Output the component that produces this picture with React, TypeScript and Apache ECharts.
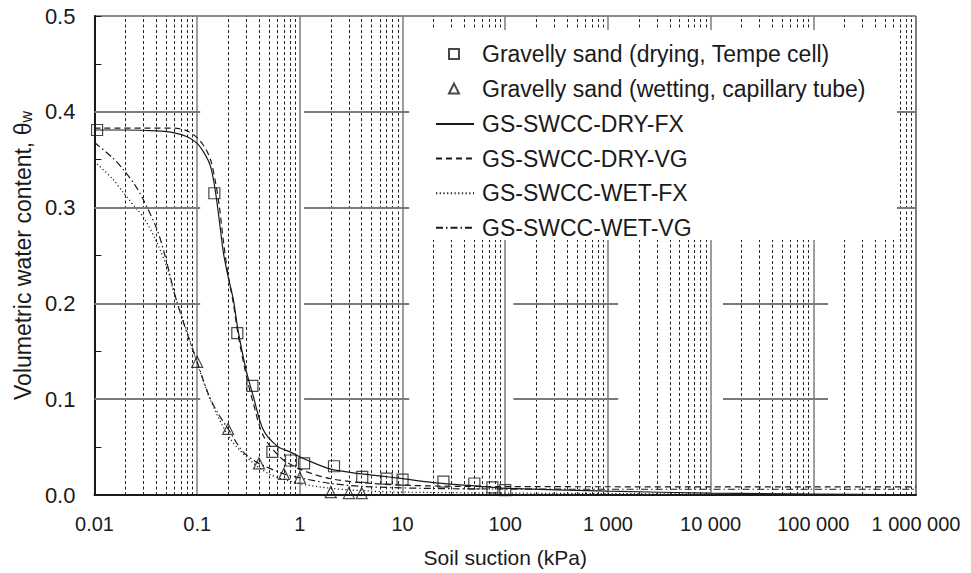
import React, { useEffect, useRef } from "react";
import * as echarts from "echarts";

// ---- axis ticks ----
const xTickValues = [0.01, 0.1, 1, 10, 100, 1000, 10000, 100000, 1000000];
const xTickLabels = ["0.01", "0.1", "1", "10", "100", "1 000", "10 000", "100 000", "1 000 000"];
const yTickLabels = ["0.0", "0.1", "0.2", "0.3", "0.4", "0.5"];

// ---- measured points ----
const dryingSuction = [0.0106, 0.147, 0.246, 0.345, 0.54, 0.82, 1.1, 2.15, 4.05, 7.0, 10, 25, 50, 75, 100];
const dryingTheta = [0.381, 0.315, 0.169, 0.114, 0.045, 0.036, 0.033, 0.03, 0.019, 0.017, 0.016, 0.014, 0.012, 0.008, 0.005];
const wettingSuction = [0.1, 0.2, 0.4, 0.7, 1.0, 2.0, 3.0, 4.0];
const wettingTheta = [0.139, 0.069, 0.033, 0.022, 0.018, 0.003, 0.002, 0.002];

// ---- fitted curves ----
const dryFxSuction = [0.01, 0.02, 0.04, 0.06, 0.08, 0.1, 0.12, 0.135, 0.15, 0.165, 0.18, 0.2, 0.225, 0.25, 0.3, 0.35, 0.44, 0.6, 0.8, 1.2, 2, 4, 6, 10, 20, 57, 100, 1000, 10000, 100000, 1000000];
const dryFxTheta = [0.381, 0.381, 0.38, 0.378, 0.374, 0.367, 0.355, 0.343, 0.318, 0.285, 0.253, 0.228, 0.204, 0.172, 0.13, 0.104, 0.068, 0.051, 0.045, 0.036, 0.027, 0.022, 0.02, 0.017, 0.013, 0.009, 0.007, 0.004, 0.002, 0.001, 0];

const dryVgSuction = [0.01, 0.03, 0.06, 0.08, 0.1, 0.12, 0.135, 0.15, 0.165, 0.18, 0.2, 0.225, 0.25, 0.3, 0.35, 0.44, 0.65, 1, 2, 5, 18, 100, 1000, 10000, 100000, 1000000];
const dryVgTheta = [0.383, 0.383, 0.383, 0.38, 0.373, 0.362, 0.35, 0.328, 0.3, 0.265, 0.23, 0.2, 0.168, 0.125, 0.097, 0.062, 0.039, 0.027, 0.017, 0.012, 0.0095, 0.0088, 0.0086, 0.0085, 0.0085, 0.0085];

const wetFxSuction = [0.01, 0.015, 0.019, 0.025, 0.03, 0.04, 0.051, 0.06, 0.08, 0.1, 0.13, 0.2, 0.3, 0.5, 1, 2, 5, 10, 100, 1000, 10000, 100000, 1000000];
const wetFxTheta = [0.348, 0.33, 0.316, 0.3, 0.29, 0.265, 0.237, 0.21, 0.17, 0.138, 0.103, 0.062, 0.04, 0.022, 0.012, 0.007, 0.004, 0.003, 0.002, 0.0015, 0.001, 0.0005, 0];

const wetVgSuction = [0.01, 0.015, 0.019, 0.025, 0.03, 0.041, 0.05, 0.061, 0.08, 0.1, 0.13, 0.16, 0.2, 0.28, 0.4, 0.7, 1, 2, 5, 20, 100, 1000, 10000, 100000, 1000000];
const wetVgTheta = [0.368, 0.352, 0.34, 0.323, 0.308, 0.276, 0.245, 0.208, 0.168, 0.139, 0.104, 0.085, 0.069, 0.045, 0.033, 0.022, 0.018, 0.012, 0.0085, 0.0068, 0.0062, 0.006, 0.006, 0.006, 0.006];

const seriesNames = [
  "Gravelly sand (drying, Tempe cell)",
  "Gravelly sand (wetting, capillary tube)",
  "GS-SWCC-DRY-FX",
  "GS-SWCC-DRY-VG",
  "GS-SWCC-WET-FX",
  "GS-SWCC-WET-VG",
];

// horizontal grid segments (as they appear in the figure)
const hGridLevels = [0.1, 0.2, 0.3, 0.4];
const hGridSegments = [
  [0.01, 0.107],
  [1.1, 11.6],
  [120, 1260],
  [13200, 139000],
];
const hGridStubLevels = [0.3, 0.4];
const hGridStub = [650000, 1000000];

const FONT = "'Liberation Sans', Arial, Helvetica, sans-serif";
const INK = "#1a1a1a";

const zip = (xs: number[], ys: number[]) => xs.map((x, i) => [x, ys[i]]);

export default function App() {
  const ref = useRef<HTMLDivElement>(null);

  useEffect(() => {
    document.body.style.margin = "0";
    if (!ref.current) return;
    const chart = echarts.init(ref.current, undefined, { renderer: "svg" });

    const minorX: number[] = [];
    for (let i = 0; i < xTickValues.length - 1; i++) {
      for (let m = 2; m <= 9; m++) minorX.push(m * xTickValues[i]);
    }
    const hSegs: any[] = [];
    hGridLevels.forEach((y) => {
      hGridSegments.forEach(([a, b]) => hSegs.push([{ coord: [a, y] }, { coord: [b, y] }]));
    });
    hGridStubLevels.forEach((y) => hSegs.push([{ coord: [hGridStub[0], y] }, { coord: [hGridStub[1], y] }]));

    const labelFor = (v: number) => {
      const idx = Math.round(Math.log10(v)) + 2;
      return xTickLabels[idx] ?? "";
    };

    const lineSeries = (name: string, xs: number[], ys: number[], type: any, width = 1.2) => ({
      name,
      type: "line",
      data: zip(xs, ys),
      showSymbol: false,
      symbol: "none",
      smooth: 0.3,
      z: 4,
      lineStyle: { color: INK, width, type },
      itemStyle: { color: INK },
      emphasis: { disabled: true },
    });

    chart.setOption({
      animation: false,
      backgroundColor: "#fff",
      textStyle: { fontFamily: FONT },
      grid: {
        left: 94,
        right: 55,
        top: 16,
        bottom: 77,
        show: true,
        borderColor: INK,
        borderWidth: 1,
        backgroundColor: "transparent",
      },
      xAxis: {
        type: "log",
        logBase: 10,
        min: 0.01,
        max: 1000000,
        name: "Soil suction (kPa)",
        nameLocation: "middle",
        nameGap: 52,
        nameTextStyle: { fontSize: 21, color: INK, fontFamily: FONT },
        axisLine: { lineStyle: { color: INK, width: 2 } },
        axisTick: { show: false },
        axisLabel: {
          fontSize: 20,
          color: INK,
          fontFamily: FONT,
          margin: 19,
          formatter: (v: number) => labelFor(v),
        },
        splitLine: { show: true, lineStyle: { color: "#7d7d7d", width: 1.5 } },
        minorTick: { show: false },
      },
      yAxis: {
        type: "value",
        min: 0,
        max: 0.5,
        interval: 0.1,
        name: "Volumetric water content, θ{w|w}",
        nameLocation: "middle",
        nameGap: 57,
        nameTextStyle: {
          fontSize: 23,
          color: INK,
          fontFamily: FONT,
          rich: {
            w: { fontSize: 16, color: INK, fontFamily: FONT, verticalAlign: "bottom", lineHeight: 16, padding: [10, 0, 0, 0] },
          },
        },
        axisLine: { lineStyle: { color: INK, width: 2 } },
        axisTick: { show: true, inside: true, length: 7, lineStyle: { color: INK, width: 1 } },
        minorTick: { show: true, splitNumber: 2, length: 7, lineStyle: { color: INK, width: 1 } },
        axisLabel: {
          fontSize: 22,
          color: INK,
          fontFamily: FONT,
          margin: 19,
          formatter: (v: number) => yTickLabels[Math.round(v * 10)] ?? "",
        },
        splitLine: { show: false },
      },
      legend: [
        {
          data: [seriesNames[0], seriesNames[1]],
          orient: "vertical",
          left: 448,
          top: 42,
          padding: 0,
          itemWidth: 10,
          itemHeight: 10,
          itemGap: 10.6,
          z: 20,
          selectedMode: false,
          textStyle: { fontSize: 23, color: INK, fontFamily: FONT, lineHeight: 24, padding: [0, 0, 0, 18] },
        },
        {
          data: [seriesNames[2], seriesNames[3], seriesNames[4], seriesNames[5]],
          orient: "vertical",
          left: 435,
          top: 112,
          padding: 0,
          itemWidth: 38,
          itemHeight: 12,
          itemGap: 10.6,
          z: 20,
          selectedMode: false,
          itemStyle: { color: "rgba(0,0,0,0)", borderWidth: 0, opacity: 0 },
          textStyle: { fontSize: 23, color: INK, fontFamily: FONT, lineHeight: 24, padding: [0, 0, 0, 3] },
        },
      ],
      graphic: {
        elements: [
          {
            type: "rect",
            z: 10,
            silent: true,
            shape: { x: 413, y: 30, width: 484, height: 210 },
            style: { fill: "#fff" },
          },
        ],
      },
      series: [
        {
          name: "grid-helper",
          type: "line",
          data: [],
          silent: true,
          z: 1,
          markLine: {
            silent: true,
            symbol: ["none", "none"],
            label: { show: false },
            emphasis: { disabled: true },
            data: [
              ...minorX.map((x) => ({ xAxis: x, lineStyle: { color: "#222", width: 1, type: [3, 2.5] } })),
              ...hSegs.map((seg) => [
                { ...seg[0], lineStyle: { color: "#7a7a7a", width: 2, type: "solid" } },
                seg[1],
              ]),
            ],
          },
        },
        {
          name: seriesNames[0],
          type: "scatter",
          data: zip(dryingSuction, dryingTheta),
          symbol: "rect",
          symbolSize: 11,
          z: 5,
          itemStyle: { color: "rgba(255,255,255,0)", borderColor: INK, borderWidth: 1.2 },
          emphasis: { disabled: true },
        },
        {
          name: seriesNames[1],
          type: "scatter",
          data: zip(wettingSuction, wettingTheta),
          symbol: "triangle",
          symbolSize: 11,
          z: 5,
          itemStyle: { color: "rgba(255,255,255,0)", borderColor: INK, borderWidth: 1.2 },
          emphasis: { disabled: true },
        },
        lineSeries(seriesNames[2], dryFxSuction, dryFxTheta, "solid"),
        lineSeries(seriesNames[3], dryVgSuction, dryVgTheta, [6, 4]),
        lineSeries(seriesNames[4], wetFxSuction, wetFxTheta, [1.2, 2.5]),
        lineSeries(seriesNames[5], wetVgSuction, wetVgTheta, [7, 3, 1.5, 3]),
      ],
    });

    return () => chart.dispose();
  }, []);

  return <div ref={ref} style={{ width: 971, height: 573 }} />;
}
